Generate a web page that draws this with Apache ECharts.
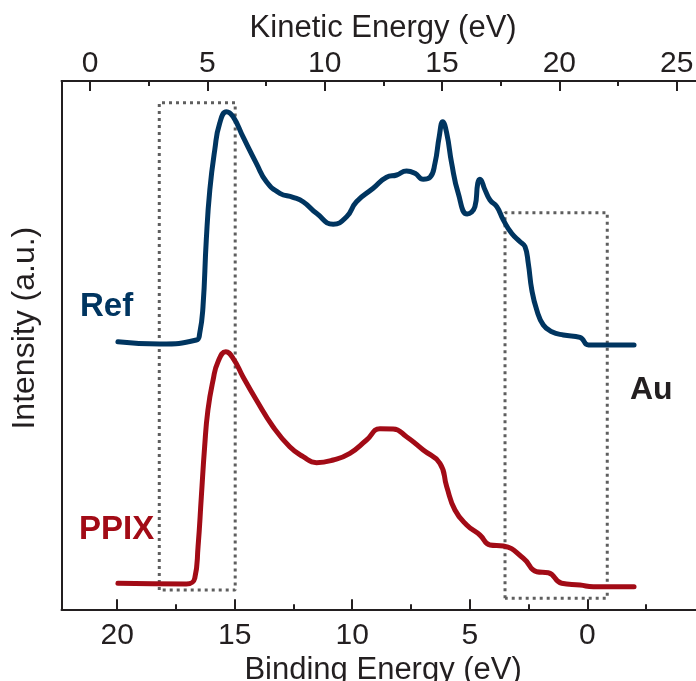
<!DOCTYPE html>
<html>
<head>
<meta charset="utf-8">
<script src="https://cdn.jsdelivr.net/npm/echarts@6/dist/echarts.min.js"></script>
<style>
  html, body { margin: 0; padding: 0; background: #ffffff; }
  #chart { width: 696px; height: 681px; }
</style>
</head>
<body>
<div id="chart"></div>
<script>
// UPS spectra on Au: binding energy (eV) vs. intensity (a.u., curves offset)
const refBinding = [19.97, 18.19, 16.63, 16.49, 16.35, 16.21, 16.06, 15.85, 15.64, 15.35,
  15.07, 14.65, 14.08, 13.65, 13.08, 12.52, 12.09, 11.52, 10.81, 10.24,
  9.82, 9.11, 8.54, 8.11, 7.69, 7.33, 6.98, 6.69, 6.48, 6.30,
  6.15, 5.98, 5.77, 5.49, 5.11, 4.78, 4.66, 4.57, 4.35, 4.14,
  3.85, 3.57, 3.22, 2.86, 2.65, 2.51, 2.36, 2.15, 1.87, 1.51,
  1.02, 0.31, -0.05, -0.83, -1.99];
const refIntensity = [26.9, 26.67, 27.07, 27.74, 30.4, 37.07, 42.07, 46.07, 48.74, 49.9,
  49.4, 47.4, 44.74, 42.9, 41.74, 41.34, 40.9, 39.74, 38.64, 39.4,
  40.9, 42.24, 43.34, 43.57, 43.97, 43.74, 43.14, 43.34, 44.74, 47.4,
  48.9, 47.74, 44.74, 41.74, 39.67, 40.4, 42.74, 43.14, 42.07, 41.07,
  40.4, 39.07, 37.74, 36.9, 36.4, 34.74, 32.07, 30.07, 28.57, 27.9,
  27.57, 27.34, 26.57, 26.57, 26.57];

const ppixBinding = [19.97, 17.06, 16.70, 16.56, 16.42, 16.28, 16.14, 15.92, 15.71, 15.38,
  15.07, 14.65, 14.08, 13.37, 12.66, 12.09, 11.52, 10.81, 10.10, 9.39,
  8.82, 8.26, 7.69, 6.98, 6.27, 5.98, 5.63, 5.13, 4.57, 4.14,
  3.57, 2.72, 2.15, 1.66, 1.09, 0.31, -0.26, -1.99];
const ppixIntensity = [2.74, 2.67, 3.24, 6.4, 11.4, 16.4, 20.07, 23.07, 24.9, 25.9,
  25.24, 23.4, 21.07, 18.4, 16.4, 15.4, 14.8, 15.07, 15.74, 17.07,
  18.19, 18.17, 17.4, 16.07, 14.74, 12.4, 10.07, 8.57, 7.57, 6.57,
  6.47, 5.24, 3.9, 3.8, 2.74, 2.57, 2.4, 2.4];

// Dotted windows: secondary-electron cutoff and Fermi-edge region
const cutoffWindowBE = [18.21, 14.98];
const cutoffWindowI = [2.07, 50.8];
const fermiWindowBE = [3.50, -0.85];
const fermiWindowI = [1.24, 39.8];

// Axis ranges and labelled tick values
const bindingRange = [-5, 22.37];
const kineticRange = [-1.22, 26.2];
const intensityRange = [0.14, 52.97];
const bindingLabels = [20, 15, 10, 5, 0];
const kineticLabels = [0, 5, 10, 15, 20, 25];

const ink = '#231f20';
const refColor = '#003560';
const ppixColor = '#a20b16';
const boxColor = '#5e5e5e';
const fontFamily = '"Liberation Sans", Arial, Helvetica, sans-serif';

function pairs(xs, ys) { return xs.map((x, i) => [x, ys[i]]); }
function boxPath(be, inten) {
  return [[be[0], inten[0]], [be[0], inten[1]], [be[1], inten[1]], [be[1], inten[0]], [be[0], inten[0]]];
}
function labelsFrom(list) {
  return v => {
    const hit = list.find(t => Math.abs(t - v) < 1e-6);
    return hit === undefined ? '' : String(hit);
  };
}

function energyAxis(opts) {
  return Object.assign({
    type: 'value',
    gridIndex: 0,
    splitLine: { show: false },
    axisLine: { show: false, onZero: false },
    axisTick: { show: true, inside: true, length: 10, lineStyle: { color: ink, width: 2 } },
    axisLabel: { show: false },
    axisPointer: { show: false }
  }, opts);
}

const chart = echarts.init(document.getElementById('chart'), null, { renderer: 'canvas' });

chart.setOption({
  animation: false,
  backgroundColor: '#ffffff',
  textStyle: { fontFamily: fontFamily, color: ink },
  grid: { left: 61.5, top: 81, width: 643.3, bottom: 71.7, containLabel: false, outerBoundsMode: 'none' },
  xAxis: [
    // binding energy, major ticks + labels
    energyAxis({
      position: 'bottom', inverse: true,
      min: bindingRange[0], max: bindingRange[1],
      minInterval: 5, maxInterval: 5, splitNumber: 5,
      axisLine: { show: true, onZero: false, lineStyle: { color: ink, width: 2 } },
      axisLabel: { show: true, formatter: labelsFrom(bindingLabels), fontSize: 30, color: ink, fontFamily: fontFamily, margin: 11 },
      name: 'Binding Energy (eV)', nameLocation: 'middle', nameGap: 43,
      nameTextStyle: { fontSize: 31, color: ink, fontFamily: fontFamily }
    }),
    // binding energy, minor ticks
    energyAxis({
      position: 'bottom', inverse: true,
      min: bindingRange[0], max: bindingRange[1],
      minInterval: 2.5, maxInterval: 2.5, splitNumber: 11,
      axisTick: { show: true, inside: true, length: 5, lineStyle: { color: ink, width: 2 } }
    }),
    // kinetic energy, major ticks + labels
    energyAxis({
      position: 'top',
      min: kineticRange[0], max: kineticRange[1],
      minInterval: 5, maxInterval: 5, splitNumber: 5,
      axisLine: { show: true, onZero: false, lineStyle: { color: ink, width: 2 } },
      axisLabel: { show: true, formatter: labelsFrom(kineticLabels), fontSize: 30, color: ink, fontFamily: fontFamily, margin: 2 },
      name: 'Kinetic Energy (eV)', nameLocation: 'middle', nameGap: 32,
      nameTextStyle: { fontSize: 31, color: ink, fontFamily: fontFamily }
    }),
    // kinetic energy, minor ticks
    energyAxis({
      position: 'top',
      min: kineticRange[0], max: kineticRange[1],
      minInterval: 2.5, maxInterval: 2.5, splitNumber: 11,
      axisTick: { show: true, inside: true, length: 5, lineStyle: { color: ink, width: 2 } }
    })
  ],
  yAxis: {
    type: 'value',
    min: intensityRange[0], max: intensityRange[1],
    axisLine: { show: true, onZero: false, lineStyle: { color: ink, width: 2 } },
    axisTick: { show: false },
    axisLabel: { show: false },
    splitLine: { show: false },
    name: 'Intensity (a.u.)', nameLocation: 'middle', nameGap: 20, nameRotate: 90,
    nameTextStyle: { fontSize: 32, color: ink, fontFamily: fontFamily, padding: [0, 0, 0, 34] }
  },
  series: [
    {
      name: 'Cutoff window', type: 'line', xAxisIndex: 0, yAxisIndex: 0,
      data: boxPath(cutoffWindowBE, cutoffWindowI),
      showSymbol: false, silent: true, z: 1,
      lineStyle: { color: boxColor, width: 3, type: [3, 4], cap: 'butt' }
    },
    {
      name: 'Fermi window', type: 'line', xAxisIndex: 0, yAxisIndex: 0,
      data: boxPath(fermiWindowBE, fermiWindowI),
      showSymbol: false, silent: true, z: 1,
      lineStyle: { color: boxColor, width: 3, type: [3, 4], cap: 'butt' }
    },
    {
      name: 'Ref', type: 'line', xAxisIndex: 0, yAxisIndex: 0,
      data: pairs(refBinding, refIntensity),
      showSymbol: false, smooth: 0.5, clip: false, z: 3,
      lineStyle: { color: refColor, width: 5, cap: 'round', join: 'round' }
    },
    {
      name: 'PPIX', type: 'line', xAxisIndex: 0, yAxisIndex: 0,
      data: pairs(ppixBinding, ppixIntensity),
      showSymbol: false, smooth: 0.5, clip: false, z: 3,
      lineStyle: { color: ppixColor, width: 5, cap: 'round', join: 'round' }
    }
  ],
  graphic: [
    { type: 'text', x: 80, y: 307, z: 10,
      style: { text: 'Ref', fill: refColor, font: 'bold 33px ' + fontFamily, textVerticalAlign: 'middle' } },
    { type: 'text', x: 79, y: 530, z: 10,
      style: { text: 'PPIX', fill: ppixColor, font: 'bold 33px ' + fontFamily, textVerticalAlign: 'middle' } },
    { type: 'text', x: 630, y: 390, z: 10,
      style: { text: 'Au', fill: ink, font: 'bold 32px ' + fontFamily, textVerticalAlign: 'middle' } }
  ]
});
</script>
</body>
</html>
